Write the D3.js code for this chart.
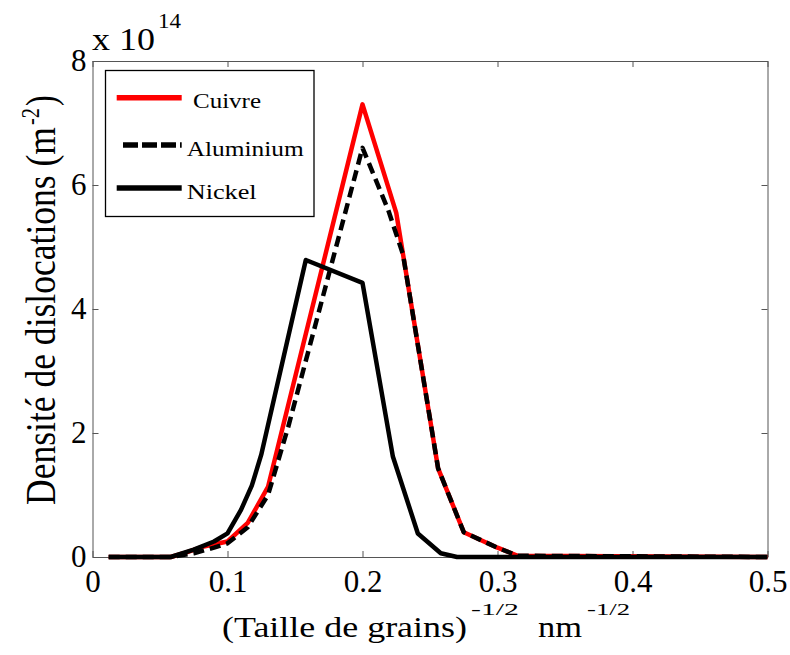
<!DOCTYPE html>
<html>
<head>
<meta charset="utf-8">
<script src="https://cdn.jsdelivr.net/npm/d3@7"></script>
<style>
  html, body { margin: 0; padding: 0; background: #fff; }
  svg { display: block; }
</style>
</head>
<body>
<svg id="fig" width="790" height="655"></svg>
<script>
// ---- data (y values in units of 1e14 m^-2) ----
const seriesNames = ["Cuivre", "Aluminium", "Nickel"];
const xCuivre = [0.012, 0.058, 0.0675, 0.0824, 0.1, 0.115, 0.13, 0.2, 0.225, 0.256, 0.275, 0.3, 0.315, 0.5];
const yCuivre = [0, 0, 0.06, 0.17, 0.25, 0.55, 1.13, 7.3, 5.55, 1.43, 0.4, 0.15, 0.02, 0];
const xAluminium = [0.012, 0.058, 0.075, 0.09, 0.1, 0.115, 0.13, 0.145, 0.2, 0.219, 0.23, 0.256, 0.275, 0.3, 0.315, 0.5];
const yAluminium = [0, 0, 0.06, 0.15, 0.22, 0.48, 1.0, 2.1, 6.6, 5.6, 4.88, 1.43, 0.4, 0.15, 0.02, 0];
const xNickel = [0.012, 0.058, 0.075, 0.09, 0.1, 0.11, 0.118, 0.125, 0.158, 0.2, 0.2225, 0.241, 0.258, 0.27, 0.5];
const yNickel = [0, 0, 0.12, 0.25, 0.38, 0.76, 1.15, 1.65, 4.79, 4.42, 1.62, 0.38, 0.06, 0, 0];
const xTicks = [0, 0.1, 0.2, 0.3, 0.4, 0.5];
const yTicks = [0, 2, 4, 6, 8];

const series = [
  { name: "Cuivre", xs: xCuivre, ys: yCuivre, color: "#ff0000", dash: null },
  { name: "Aluminium", xs: xAluminium, ys: yAluminium, color: "#000", dash: "11,6" },
  { name: "Nickel", xs: xNickel, ys: yNickel, color: "#000", dash: null }
];

const FONT = "'Liberation Serif'";
const svg = d3.select("#fig");
const L = 92.5, R = 767.5, T = 61, B = 557;
const x = d3.scaleLinear().domain([0, 0.5]).range([L, R]);
const y = d3.scaleLinear().domain([0, 8]).range([B, T]);

function setFont(sel, size) {
  sel.style("font-family", FONT, "important").style("font-size", size + "px", "important");
}

const axisColor = "#555";
function styleAxis(g) {
  g.attr("font-family", null).attr("font-size", null);
  g.selectAll("path.domain").attr("stroke", axisColor).attr("stroke-width", 1);
  g.selectAll(".tick line").attr("stroke", axisColor).attr("stroke-width", 1);
  g.selectAll("text").call(setFont, 31).attr("fill", "#000");
}

svg.append("g").attr("transform", `translate(0,${B})`)
  .call(d3.axisBottom(x).tickValues(xTicks).tickSizeInner(-6).tickSizeOuter(0).tickPadding(13).tickFormat(d3.format("~g")))
  .call(styleAxis);
svg.append("g").attr("transform", `translate(0,${T})`)
  .call(d3.axisTop(x).tickValues(xTicks).tickSizeInner(-6).tickSizeOuter(0).tickFormat(""))
  .call(styleAxis);
svg.append("g").attr("transform", `translate(${L},0)`)
  .call(d3.axisLeft(y).tickValues(yTicks).tickSizeInner(-6).tickSizeOuter(0).tickPadding(6).tickFormat(d3.format("d")))
  .call(styleAxis);
svg.append("g").attr("transform", `translate(${R},0)`)
  .call(d3.axisRight(y).tickValues(yTicks).tickSizeInner(-6).tickSizeOuter(0).tickFormat(""))
  .call(styleAxis);

// lines
const line = d3.line().x(d => x(d[0])).y(d => y(d[1]));
series.forEach(s => {
  const pts = s.xs.map((v, i) => [v, s.ys[i]]);
  svg.append("path")
    .attr("d", line(pts))
    .attr("fill", "none")
    .attr("stroke", s.color)
    .attr("stroke-width", 4.5)
    .attr("stroke-linejoin", "round")
    .attr("stroke-dasharray", s.dash);
});

function txt(parent, px, py, size, str, len) {
  const t = parent.append("text").attr("x", px).attr("y", py).attr("fill", "#000").text(str);
  setFont(t, size);
  if (len) t.attr("textLength", len).attr("lengthAdjust", "spacingAndGlyphs");
  return t;
}

// exponent label
txt(svg, 92, 50, 31, "x 10", 63);
txt(svg, 158, 28, 21, "14", 23);

// legend
svg.append("rect").attr("x", 105.5).attr("y", 70.5).attr("width", 208.5).attr("height", 146)
  .attr("fill", "#fff").attr("stroke", "#000").attr("stroke-width", 1.3);
const legY = [97.7, 145, 188];
const legTextX = [193, 186.7, 186.7];
const legTextLen = [68, 117, 70];
series.forEach((s, i) => {
  svg.append("line")
    .attr("x1", s.dash ? 123 : 116.7).attr("x2", 181.7)
    .attr("y1", legY[i]).attr("y2", legY[i])
    .attr("stroke", s.color).attr("stroke-width", 5.5)
    .attr("stroke-dasharray", s.dash ? "15,4" : null);
  txt(svg, legTextX[i], legY[i] + 10.5, 22, seriesNames[i], legTextLen[i]);
});

// x axis label
txt(svg, 222, 637, 30, "(Taille de grains)", 245);
txt(svg, 471, 615, 17, "-1/2", 48);
txt(svg, 538, 637, 30, "nm", 44);
txt(svg, 587, 615, 17, "-1/2", 43);

// y axis label (rotated)
const yl = svg.append("g").attr("transform", "translate(55,505) rotate(-90) scale(1,1.3)");
txt(yl, 0, 0, 32, "Densité de dislocations (m", 378);
txt(yl, 380, -12, 20, "-2", 17);
txt(yl, 399, 0, 32, ")", null);
</script>
</body>
</html>
